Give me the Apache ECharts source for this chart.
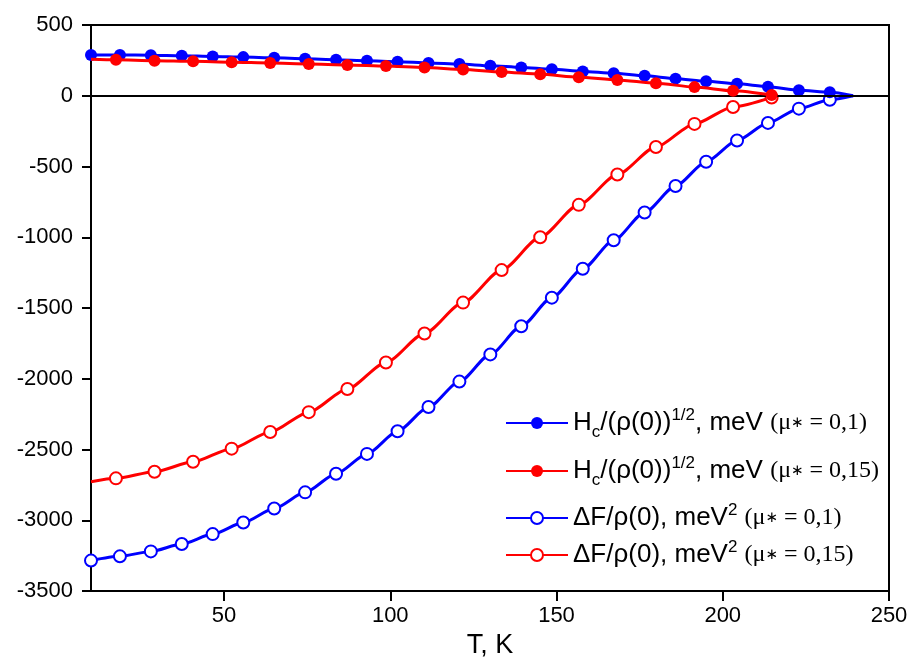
<!DOCTYPE html>
<html>
<head>
<meta charset="utf-8">
<script src="https://cdn.jsdelivr.net/npm/echarts@6/dist/echarts.min.js"></script>
<style>html,body{margin:0;padding:0;background:#fff;}#chart{width:912px;height:664px;}</style>
</head>
<body>
<div id="chart"></div>
<script>
// ---- data ----
const xTicks = [50, 100, 150, 200, 250];
const yTicks = [-3500, -3000, -2500, -2000, -1500, -1000, -500, 0, 500];

// mu* = 0.1 (blue)
const T_blue = [10, 18.7, 28.0, 37.3, 46.6, 55.8, 65.1, 74.4, 83.7, 93.0, 102.2, 111.5, 120.8, 130.1, 139.4, 148.6, 157.9, 167.2, 176.5, 185.8, 195.0, 204.3, 213.6, 222.9, 232.2];
const Hc_blue = [288, 288, 287, 283, 278, 273, 268, 262, 255, 248, 241, 232, 224, 212, 200, 187, 172, 159, 141, 121, 102, 84, 64, 39, 24];
const dF_blue = [-3285, -3255, -3220, -3168, -3098, -3016, -2917, -2803, -2671, -2531, -2371, -2200, -2020, -1828, -1629, -1427, -1223, -1021, -825, -638, -466, -316, -192, -91, -28];
const Tc_blue = 239.2;

// mu* = 0.15 (red)
const T_red_start = 10;
const Hc_red_start = 258;
const dF_red_start = -2728;
const T_red = [17.5, 29.1, 40.7, 52.3, 63.9, 75.5, 87.1, 98.7, 110.3, 121.9, 133.5, 145.1, 156.7, 168.3, 179.9, 191.5, 203.1, 214.7];
const Hc_red = [254, 248, 243, 237, 232, 225, 218, 210, 199, 185, 168, 152, 131, 112, 89, 61, 35, 5];
const dF_red = [-2704, -2657, -2587, -2494, -2376, -2236, -2072, -1885, -1680, -1462, -1232, -1000, -771, -557, -362, -199, -79, -12];

const names = ['Hc01', 'Hc015', 'dF01', 'dF015'];
const labels = {
  Hc01: '{t|H}{sub|c}{t|/(ρ(0))}{sup|1/2}{t|, meV }{m|(μ}{a|∗}{m| = 0,1)}',
  Hc015: '{t|H}{sub|c}{t|/(ρ(0))}{sup|1/2}{t|, meV }{m|(μ}{a|∗}{m| = 0,15)}',
  dF01: '{t|ΔF/ρ(0), meV}{sup|2}{t| }{m|(μ}{a|∗}{m| = 0,1)}',
  dF015: '{t|ΔF/ρ(0), meV}{sup|2}{t| }{m|(μ}{a|∗}{m| = 0,15)}'
};
const legendTops = [407, 455, 502, 539];

// ---- build series data ----
function blueData(vals) {
  const d = T_blue.map((t, i) => [t, vals[i]]);
  d.push({ value: [Tc_blue, 0], symbol: 'none' });
  return d;
}
function redData(start, vals) {
  const d = [{ value: [T_red_start, start], symbol: 'none' }];
  T_red.forEach((t, i) => d.push([t, vals[i]]));
  return d;
}

const BLUE = '#0000ff', RED = '#ff0000';
const FONT = 'Liberation Sans, Arial, sans-serif';
const SERIF = 'Liberation Serif, Times New Roman, serif';

const rich = {
  t: { fontFamily: FONT, fontSize: 26, color: '#000' },
  sub: { fontFamily: FONT, fontSize: 17, color: '#000', padding: [18, 0, 0, 0] },
  sup: { fontFamily: FONT, fontSize: 17, color: '#000', padding: [0, 0, 15, 0] },
  m: { fontFamily: SERIF, fontSize: 24, color: '#000' },
  a: { fontFamily: 'DejaVu Sans', fontSize: 15, color: '#000' }
};

const legends = names.map((n, i) => ({
  left: 505,
  top: legendTops[i],
  orient: 'vertical',
  padding: 0,
  data: [n],
  itemWidth: 62,
  itemHeight: 15,
  itemGap: 0,
  selectedMode: false,
  formatter: (name) => labels[name],
  textStyle: { rich: rich, fontFamily: FONT, fontSize: 26, color: '#000' }
}));

function lineSeries(name, color, data, filled, z) {
  return {
    name: name,
    type: 'line',
    data: data,
    smooth: 0.25,
    smoothMonotone: 'x',
    symbol: filled ? 'circle' : 'emptyCircle',
    symbolSize: 12,
    showSymbol: true,
    z: z,
    lineStyle: { color: color, width: 3 },
    itemStyle: { color: color, borderWidth: 1.5 },
    emphasis: { disabled: true },
    animation: false
  };
}

const chart = echarts.init(document.getElementById('chart'), null, { renderer: 'canvas' });
chart.setOption({
  backgroundColor: '#fff',
  animation: false,
  legend: legends,
  grid: {
    left: 91, right: 23, top: 25, bottom: 70,
    show: true, borderColor: '#000', borderWidth: 2, backgroundColor: 'transparent'
  },
  xAxis: {
    type: 'value',
    min: 10, max: 250,
    name: 'T, K',
    nameLocation: 'middle',
    nameGap: 41,
    nameTextStyle: { fontFamily: FONT, fontSize: 27, color: '#000' },
    axisLine: { show: true, onZero: false, lineStyle: { color: '#000', width: 2 } },
    axisTick: { show: true, inside: false, length: 10, lineStyle: { color: '#000', width: 2 }, customValues: xTicks },
    axisLabel: { fontFamily: FONT, fontSize: 22, color: '#000', margin: 14, customValues: xTicks, formatter: (v) => String(v) },
    splitLine: { show: false }
  },
  yAxis: {
    type: 'value',
    min: -3500, max: 500, interval: 500,
    axisLine: { show: true, onZero: false, lineStyle: { color: '#000', width: 2 } },
    axisTick: { show: true, inside: false, length: 9, lineStyle: { color: '#000', width: 2 }, customValues: yTicks },
    axisLabel: { fontFamily: FONT, fontSize: 22, color: '#000', margin: 18, customValues: yTicks, formatter: (v) => String(v) },
    splitLine: { show: false }
  },
  series: [
    Object.assign(lineSeries('dF01', BLUE, blueData(dF_blue), false, 2), {
      markLine: {
        silent: true, symbol: 'none', label: { show: false },
        lineStyle: { color: '#000', width: 2, type: 'solid' },
        data: [{ yAxis: 0 }], animation: false
      }
    }),
    lineSeries('dF015', RED, redData(dF_red_start, dF_red), false, 3),
    lineSeries('Hc01', BLUE, blueData(Hc_blue), true, 4),
    lineSeries('Hc015', RED, redData(Hc_red_start, Hc_red), true, 5)
  ]
});
</script>
</body>
</html>
